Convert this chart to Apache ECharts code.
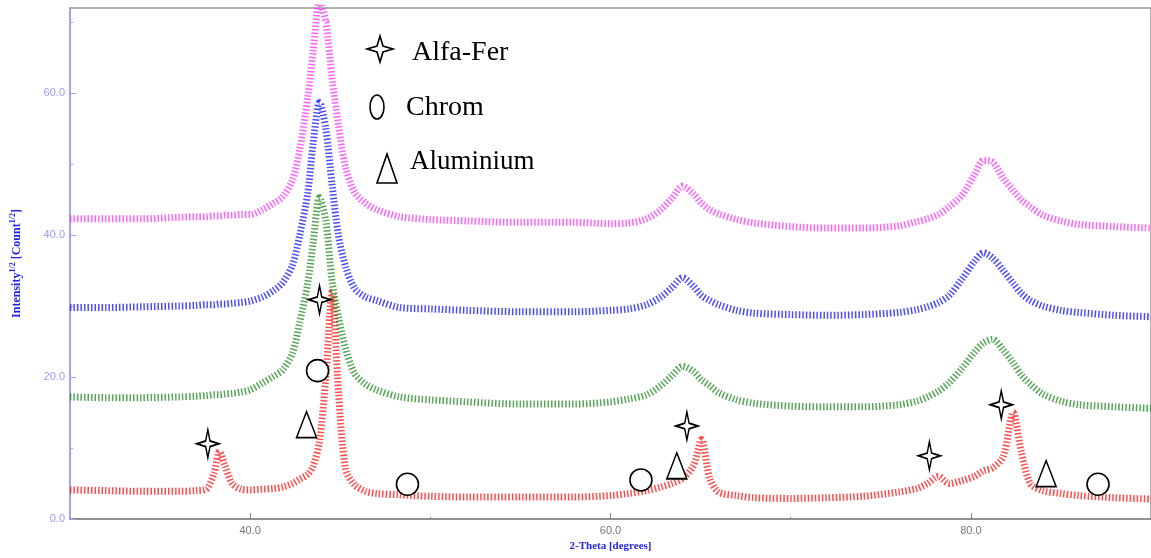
<!DOCTYPE html>
<html>
<head>
<meta charset="utf-8">
<script src="https://cdn.jsdelivr.net/npm/echarts@6/dist/echarts.min.js"></script>
<style>
  html, body { margin: 0; padding: 0; background: #fff; }
  #xrd { width: 1151px; height: 558px; }
</style>
</head>
<body>
<div id="xrd"></div>
<script>
// 2-theta grid (degrees) shared by the four patterns
var twoTheta = [30, 32, 34, 36, 37, 37.6, 38, 38.3, 38.6, 39, 39.5, 40, 40.7, 41.3, 41.8, 42.35, 42.75, 43.2, 43.5, 43.85,
  44.2, 44.55, 44.9, 45.3, 45.8, 46.4, 47, 48.3, 50, 52, 55, 58, 60, 61, 62, 62.8, 63.4, 64, 64.6, 65.05,
  65.5, 66, 67, 68, 70, 72, 74, 76, 77, 77.6, 78.2, 78.8, 79.5, 80.2, 80.7, 81.2, 81.8, 82.35, 82.8, 83.3,
  84, 85, 86, 88, 90];

// sqrt intensities
var magentaVals = [42.3, 42.3, 42.3, 42.5, 42.6, 42.6, 42.7, 42.7, 42.8, 42.8, 42.9, 42.9, 43.6, 44.5, 45.4, 47.8, 52, 59.5, 66, 73,
  70, 62, 55.5, 49.5, 46, 44.5, 43.6, 42.6, 42.2, 42, 41.8, 41.8, 41.6, 41.7, 42.3, 43.6, 45.2, 46.9, 45.8, 44.5,
  43.6, 43, 42.2, 41.7, 41.2, 41, 41, 41.3, 41.9, 42.3, 42.9, 44, 45.6, 48.5, 50.5, 50.3, 48, 46.3, 45, 44,
  42.8, 42, 41.5, 41.2, 41];
var blueVals = [29.8, 29.8, 29.9, 30, 30.1, 30.2, 30.2, 30.3, 30.3, 30.4, 30.5, 30.7, 31.3, 32.2, 33.3, 35.8, 40, 46, 53, 58.7,
  55, 47, 40, 35.5, 32.5, 31.3, 30.8, 29.8, 29.6, 29.4, 29.2, 29.2, 29.4, 29.6, 30.2, 31.3, 32.6, 34, 32.8, 31.5,
  30.8, 30.2, 29.4, 29, 28.8, 28.7, 28.8, 29.1, 29.5, 29.9, 30.5, 31.5, 33.8, 36.3, 37.5, 36.8, 35, 33.2, 31.8, 30.8,
  30, 29.4, 29.1, 28.7, 28.5];
var greenVals = [17.2, 17.1, 17.1, 17.2, 17.3, 17.4, 17.5, 17.5, 17.6, 17.7, 17.9, 18.2, 19.2, 20.1, 21, 23.4, 27.7, 33.3, 39, 45.3,
  42, 33.5, 28.5, 24, 20.5, 19, 18.2, 17.2, 16.8, 16.5, 16.2, 16.2, 16.5, 16.9, 17.5, 18.8, 20.2, 21.5, 20.8, 19.6,
  18.8, 17.8, 16.8, 16.3, 15.9, 15.8, 15.8, 16.1, 16.6, 17.2, 18, 19.2, 21.2, 23.5, 24.8, 25.3, 23.8, 22, 20.3, 19,
  17.6, 16.6, 16.1, 15.8, 15.6];
var redVals = [4.1, 4, 3.9, 3.9, 4, 4.3, 6.5, 9.5, 7.5, 5, 4.2, 4.1, 4.2, 4.3, 4.5, 5, 5.6, 6.3, 7.5, 11,
  20, 32, 18, 7, 4.8, 3.9, 3.6, 3.4, 3.2, 3.1, 3.1, 3.1, 3.3, 3.6, 4, 4.5, 5, 5.7, 7.5, 11.2,
  5.8, 3.8, 3.3, 3, 2.9, 3, 3.2, 3.8, 4.3, 5, 6, 5, 5.4, 6, 6.8, 7.2, 8.8, 15, 9.5, 5,
  4, 3.6, 3.3, 3, 2.8];

// phase markers [2theta, y]
var ferPts = [[37.65, 10.6], [43.85, 30.9], [64.24, 13.1], [77.7, 8.9], [81.69, 16.1]];
var chromPts = [[43.74, 20.9], [48.73, 4.9], [61.69, 5.5], [87.06, 4.9]];
var aluPts = [[43.13, 13.3], [63.68, 7.5], [84.18, 6.4]];

var xTicks = [40, 60, 80];
var xMinor = [50, 70];
var yTicks = [0, 20, 40, 60];
var yMinor = [10, 30, 50, 70];

var starPath = 'path://M50,0 L60,40 L100,50 L60,60 L50,100 L40,60 L0,50 L40,40 Z';

function pairs(vals) {
  return twoTheta.map(function (t, i) { return [t, vals[i]]; });
}

function pattern(name, color, vals) {
  return {
    name: name,
    type: 'line',
    data: pairs(vals),
    smooth: 0.3,
    showSymbol: false,
    silent: true,
    z: 2,
    lineStyle: { color: color, width: 7, opacity: 0.7, type: [1.5, 2] }
  };
}

function markers(data, symbol, size) {
  return {
    type: 'scatter',
    data: data,
    symbol: symbol,
    symbolSize: size,
    z: 5,
    itemStyle: { color: '#fff', borderColor: '#000', borderWidth: 1.6, opacity: 1 }
  };
}

var chart = echarts.init(document.getElementById('xrd'));

var option = {
  animation: false,
  grid: {
    left: 70, right: 0, top: 8, bottom: 39,
    show: true, borderColor: '#999', borderWidth: 1.5
  },
  xAxis: [{
    type: 'value', min: 30, max: 90,
    name: '2-Theta [degrees]', nameLocation: 'middle', nameGap: 22,
    nameTextStyle: { color: '#2222ee', fontFamily: 'Liberation Serif', fontWeight: 'bold', fontSize: 11 },
    axisLine: { lineStyle: { color: '#888', width: 1.5 } },
    axisTick: { inside: true, length: 6, customValues: xTicks, lineStyle: { color: '#888' } },
    axisLabel: { customValues: xTicks, color: '#777', fontSize: 11, margin: 6,
      formatter: function (v) { return v.toFixed(1); } },
    splitLine: { show: false }
  }, {
    type: 'value', min: 30, max: 90, position: 'bottom',
    axisLine: { show: false },
    axisTick: { inside: true, length: 2, customValues: xMinor, lineStyle: { color: '#888' } },
    axisLabel: { show: false },
    splitLine: { show: false }
  }],
  yAxis: [{
    type: 'value', min: 0, max: 72,
    name: '{n|Intensity}{s|1/2}{n| [Count}{s|1/2}{n|]}',
    nameLocation: 'middle', nameGap: 46, nameRotate: 90,
    nameTextStyle: {
      rich: {
        n: { color: '#2222ee', fontFamily: 'Liberation Serif', fontWeight: 'bold', fontSize: 12 },
        s: { color: '#2222ee', fontFamily: 'Liberation Serif', fontWeight: 'bold', fontSize: 8, verticalAlign: 'top', padding: [0, 0, 7, 0] }
      }
    },
    axisLine: { show: true, lineStyle: { color: '#a0a0ff', width: 2 } },
    axisTick: { inside: true, length: 6, customValues: yTicks, lineStyle: { color: '#a0a0ff' } },
    axisLabel: { customValues: yTicks, color: '#9999ff', fontSize: 11, margin: 5,
      formatter: function (v) { return v.toFixed(1); } },
    splitLine: { show: false }
  }, {
    type: 'value', min: 0, max: 72, position: 'left',
    axisLine: { show: false },
    axisTick: { inside: true, length: 3, customValues: yMinor, lineStyle: { color: '#a0a0ff' } },
    axisLabel: { show: false },
    splitLine: { show: false }
  }],
  series: [
    pattern('red', '#ff0000', redVals),
    pattern('green', '#118011', greenVals),
    pattern('blue', '#0000ff', blueVals),
    pattern('magenta', '#ff22ff', magentaVals),
    markers(ferPts, starPath, [22, 28]),
    markers(chromPts, 'circle', [22, 22]),
    markers(aluPts, 'triangle', [20, 26])
  ],
  graphic: [
    { type: 'polygon', shape: { points: [[380, 36], [383, 46], [393, 49], [383, 52], [380, 62], [377, 52], [367, 49], [377, 46]] },
      style: { fill: '#fff', stroke: '#000', lineWidth: 1.6 } },
    { type: 'text', left: 412, top: 39, style: { text: 'Alfa-Fer', font: '28px "Liberation Serif"', fill: '#000' } },
    { type: 'ellipse', shape: { cx: 377, cy: 107, rx: 7, ry: 12 },
      style: { fill: '#fff', stroke: '#000', lineWidth: 1.6 } },
    { type: 'text', left: 406, top: 94, style: { text: 'Chrom', font: '28px "Liberation Serif"', fill: '#000' } },
    { type: 'polygon', shape: { points: [[387, 154], [397, 183], [377, 183]] },
      style: { fill: '#fff', stroke: '#000', lineWidth: 1.6 } },
    { type: 'text', left: 410, top: 148, style: { text: 'Aluminium', font: '27px "Liberation Serif"', fill: '#000' } }
  ]
};

chart.setOption(option);
</script>
</body>
</html>
